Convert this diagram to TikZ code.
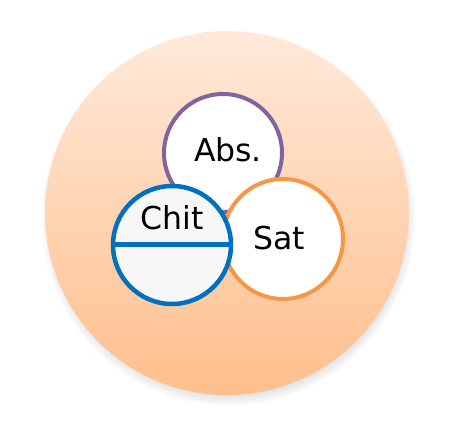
\documentclass[tikz,border=0pt]{standalone}
\usepackage{fontspec}
\setmainfont{DejaVu Sans}
\usetikzlibrary{shadows,fadings}
\definecolor{discTop}{HTML}{FFE9DA}
\definecolor{discBot}{HTML}{FFBF8C}
\definecolor{absPurple}{HTML}{8064A2}
\definecolor{satOrange}{HTML}{F79646}
\definecolor{chitBlue}{HTML}{0070C0}
\definecolor{chitFill}{HTML}{F7F7F7}
\tikzset{
  part/.style={circle,draw,line width=4pt,fill=white,minimum size=118pt,inner sep=0pt},
  partlabel/.style={font=\fontsize{31.5}{36}\selectfont,inner sep=0pt},
}

\begin{document}
\begin{tikzpicture}[x=1pt,y=-1pt]
\useasboundingbox (0,0) rectangle (459,438);
% outer disc
\node[circle,minimum size=364pt,inner sep=0pt,top color=discTop,bottom color=discBot,
  circular drop shadow={shadow scale=1.03,shadow xshift=1pt,shadow yshift=-5pt,opacity=.55}] (world) at (227,213) {};
% the three parts
\node[part,draw=absPurple] (abs) at (223,153) {};
\node[part,draw=satOrange,minimum size=120pt] (sat) at (283,239) {};
\node[part,draw=chitBlue,fill=chitFill,line width=4.5pt] (chit) at (172,245) {};
\draw[chitBlue,line width=5pt] (chit.west) -- (chit.east);
\node[partlabel] (absText) at (228,150) {Abs.};
\node[partlabel] (satText) at (279,238) {Sat};
\node[partlabel] (chitText) at (172,218) {Chit};
\end{tikzpicture}
\end{document}
